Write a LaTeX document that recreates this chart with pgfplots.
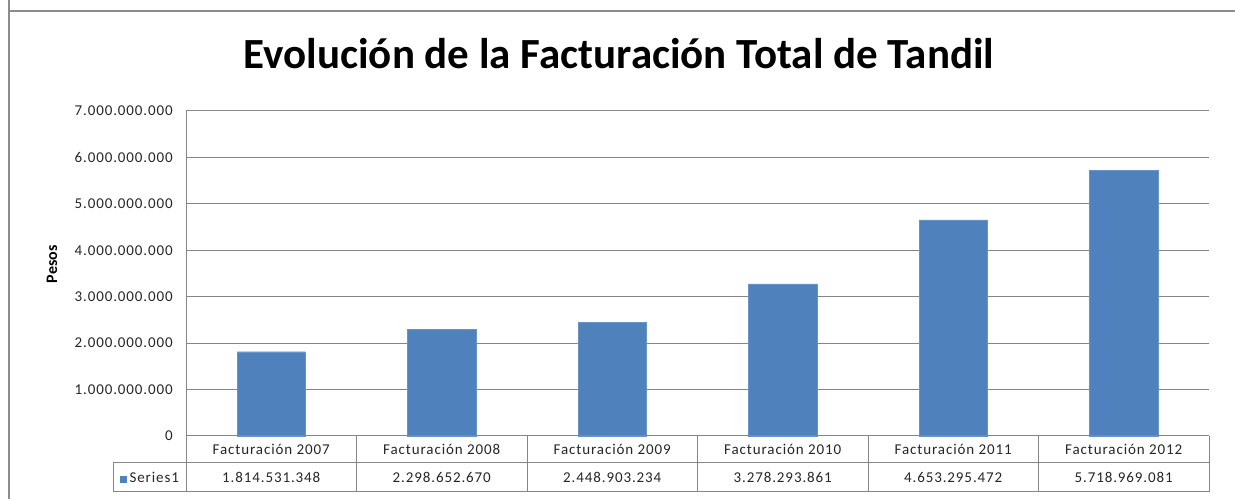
\documentclass[border=0pt]{standalone}
\usepackage{fontspec}
\setmainfont{Carlito}
\newfontfamily\tfont[LetterSpace=6]{Carlito}
\usepackage{pgfplots}
\pgfplotsset{compat=1.18}
\definecolor{barblue}{RGB}{79,129,189}
\definecolor{gridgray}{RGB}{134,134,134}
\definecolor{framegray}{RGB}{140,140,140}
\begin{document}
\begin{tikzpicture}[x=1bp,y=1bp]
\useasboundingbox (0,0) rectangle (1235,499);
% outer chart frame
\draw[framegray, line width=1.2bp] (9,499) -- (9,488) -- (1235,488);
\draw[framegray, line width=1.2bp] (9,488) -- (9,0);
\begin{axis}[
  at={(186bp,63bp)}, anchor=south west,
  scale only axis, width=1023bp, height=325bp,
  xmin=-0.5, xmax=5.5, ymin=0, ymax=7e9,
  ybar, bar width=68.2bp,
  axis lines*=left,
  axis line style={gridgray, line width=1bp},
  major tick length=0pt,
  ymajorgrids, grid style={gridgray, line width=1bp},
  ytick={0,1e9,2e9,3e9,4e9,5e9,6e9,7e9},
  yticklabels={0,1.000.000.000,2.000.000.000,3.000.000.000,4.000.000.000,5.000.000.000,6.000.000.000,7.000.000.000},
  scaled y ticks=false,
  yticklabel style={font=\tfont\fontsize{15bp}{17bp}\selectfont, text=black!85, anchor=east, inner sep=0pt, xshift=-13bp},
  xtick={0,1,2,3,4,5},
  xticklabels={Facturación 2007,Facturación 2008,Facturación 2009,Facturación 2010,Facturación 2011,Facturación 2012},
  xticklabel style={font=\tfont\fontsize{15bp}{17bp}\selectfont, text=black!85, anchor=center, inner sep=0pt, yshift=-13.5bp},
  extra x ticks={0,1,2,3,4,5},
  extra x tick labels={1.814.531.348,2.298.652.670,2.448.903.234,3.278.293.861,4.653.295.472,5.718.969.081},
  extra x tick style={xticklabel style={yshift=-28bp}},
  title={Evolución de la Facturación Total de Tandil},
  title style={font=\bfseries\fontsize{43bp}{46bp}\selectfont, at={(axis description cs:0.4233,1)}, anchor=base, yshift=37bp},
  ylabel={Pesos},
  ylabel style={font=\bfseries\fontsize{16bp}{18bp}\selectfont, at={(axis description cs:-0.131,0.528)}, anchor=center},
  clip=false,
]
\addplot[fill=barblue, draw=barblue!85!white] coordinates {
  (0,1814531348) (1,2298652670) (2,2448903234) (3,3278293861) (4,4653295472) (5,5718969081)
};
\end{axis}
% data table grid
\begin{scope}[gridgray, line width=1bp]
\draw (186,63) -- (1209,63);
\draw (113,36) -- (1209,36);
\draw (113,7) -- (1209,7);
\draw (113,36) -- (113,7);
\draw (186,63) -- (186,7);
\foreach \k in {1,...,6} {
  \draw ({186+\k*170.5},63) -- ({186+\k*170.5},7);
}
\end{scope}
\node[font=\tfont\fontsize{15bp}{17bp}\selectfont, text=black!85, anchor=center] at (149.5,21.5) {\textcolor{barblue}{\rule{7bp}{7bp}}\,Series1};
\end{tikzpicture}
\end{document}
